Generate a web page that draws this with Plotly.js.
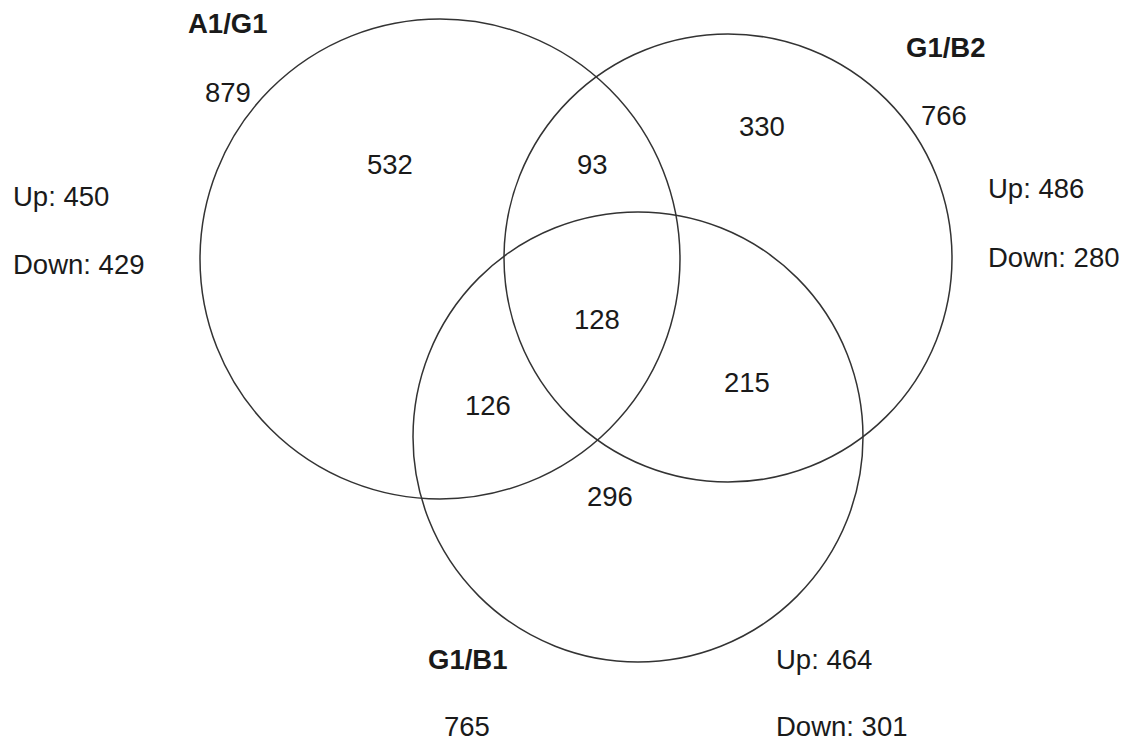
<!DOCTYPE html>
<html>
<head>
<meta charset="utf-8">
<script src="https://cdn.plot.ly/plotly-3.0.1.min.js"></script>
<style>html,body{margin:0;padding:0;background:#fff;}#chart{width:1135px;height:742px;}</style>
</head>
<body>
<div id="chart"></div>
<script>
// ---- data ----
const setNames = ['A1/G1', 'G1/B2', 'G1/B1'];
const setTotals = [879, 766, 765];
const upCounts = [450, 486, 464];
const downCounts = [429, 280, 301];
const regionNames = ['A1/G1 only', 'A1/G1 & G1/B2', 'G1/B2 only', 'all three', 'G1/B2 & G1/B1', 'A1/G1 & G1/B1', 'G1/B1 only'];
const regionCounts = [532, 93, 330, 128, 215, 126, 296];

// ---- layout geometry (pixel-like data coords) ----
const circles = [
  {cx: 440, cy: 259, r: 240},
  {cx: 728, cy: 258, r: 224},
  {cx: 638, cy: 437, r: 225}
];
const namePos = [[227, 23], [945, 47], [467, 659]];
const totalPos = [[228, 92], [944, 115], [467, 726]];
const upPos = [[11, 196], [986, 188], [774, 659]];
const downPos = [[11, 264], [986, 257], [774, 726]];
const regionPos = [[390, 164], [592, 164], [762, 126], [597, 319], [747, 382], [488, 405], [610, 496]];

const FONT = 'Liberation Sans, Arial, sans-serif';
const FS = 27.5;
const annotations = [];
function addText(text, pos, opts) {
  annotations.push(Object.assign({
    x: pos[0], y: pos[1], xref: 'x', yref: 'y', text: text, showarrow: false,
    xanchor: 'center', yanchor: 'middle',
    font: {family: FONT, size: FS, color: '#1a1a1a'}
  }, opts || {}));
}
setNames.forEach((n, i) => addText('<b>' + n + '</b>', namePos[i]));
setTotals.forEach((v, i) => addText(String(v), totalPos[i]));
upCounts.forEach((v, i) => addText('Up: ' + v, upPos[i], {xanchor: 'left'}));
downCounts.forEach((v, i) => addText('Down: ' + v, downPos[i], {xanchor: 'left'}));
regionCounts.forEach((v, i) => addText(String(v), regionPos[i]));

const shapes = circles.map(c => ({
  type: 'circle', xref: 'x', yref: 'y',
  x0: c.cx - c.r, x1: c.cx + c.r, y0: c.cy - c.r, y1: c.cy + c.r,
  line: {color: '#333333', width: 1.5}, fillcolor: 'rgba(0,0,0,0)'
}));

const layout = {
  width: 1135, height: 742,
  margin: {l: 0, r: 0, t: 0, b: 0},
  paper_bgcolor: '#fff', plot_bgcolor: '#fff',
  xaxis: {range: [0, 1135], visible: false, fixedrange: true},
  yaxis: {range: [742, 0], visible: false, fixedrange: true},
  showlegend: false,
  shapes: shapes,
  annotations: annotations
};
Plotly.newPlot('chart', [{x: [], y: [], type: 'scatter', mode: 'markers', hoverinfo: 'skip'}], layout, {staticPlot: true, displayModeBar: false});
</script>
</body>
</html>
